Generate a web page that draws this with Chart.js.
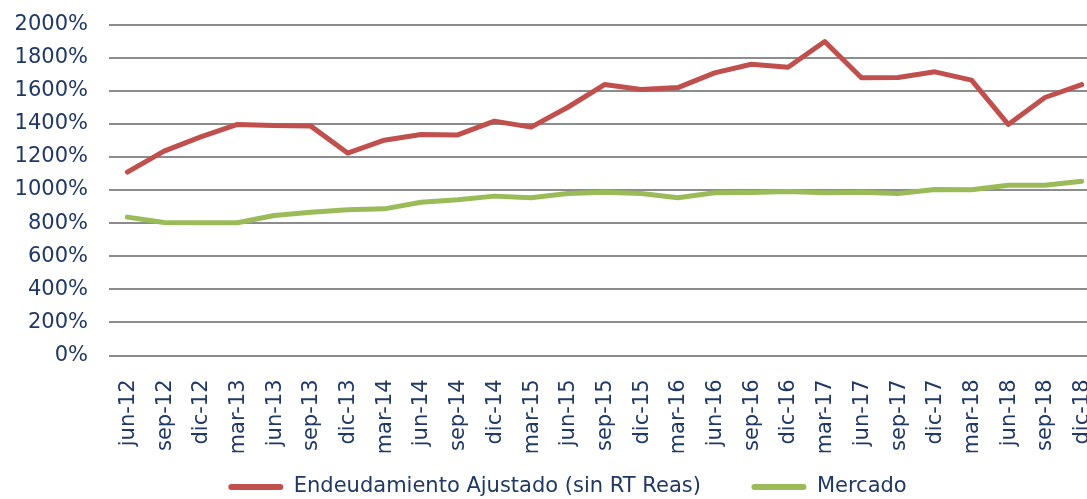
<!DOCTYPE html>
<html>
<head>
<meta charset="utf-8">
<script src="https://cdn.jsdelivr.net/npm/chart.js@4.4.1/dist/chart.umd.min.js"></script>
<style>
  html, body { margin: 0; padding: 0; background: #fff; overflow: hidden; }
  #wrap { width: 1087px; height: 499px; overflow: hidden; position: relative; }
  #chart { display: block; }
</style>
</head>
<body>
<div id="wrap"><canvas id="chart" width="1135" height="534"></canvas></div>
<script>
// quarters
var labels = ['jun-12','sep-12','dic-12','mar-13','jun-13','sep-13','dic-13','mar-14','jun-14','sep-14','dic-14',
              'mar-15','jun-15','sep-15','dic-15','mar-16','jun-16','sep-16','dic-16','mar-17','jun-17','sep-17',
              'dic-17','mar-18','jun-18','sep-18','dic-18']

// endeudamiento ajustado (sin RT reas), in %
var endeudamiento = [1108,1235,1321,1396,1390,1386,1223,1301,1335,1333,1416,
                     1380,1500,1637,1607,1619,1708,1760,1742,1897,1678,1680,
                     1714,1664,1396,1559,1637]

// mercado, in %
var mercado = [836,804,802,802,846,866,880,886,926,941,963,
               953,979,987,979,953,983,985,991,983,987,979,
               1003,1001,1029,1029,1053]

var yTicks = { min: 0, max: 2000, step: 200 }

var navy = '#1F3864'
var fontFam = '"DejaVu Sans", Verdana, sans-serif'
var legendPad = 50.5

// legend sits a bit over the bottom of the x axis box, like in excel
var legendNudge = {
    id: 'legendNudge',
    afterLayout: function (c) {
        var lg = c.legend
        if (!lg) return
        var shift = lg.top - (487 - legendPad - 10.5)
        lg.top -= shift
        lg.bottom -= shift
    }
}

// fixed box sizes, no extra label padding around the plot
function fixBox(w, h) {
    return function (s) {
        if (w != null) s.width = w
        if (h != null) s.height = h
        s.paddingTop = 0
        s.paddingBottom = 0
        s.paddingLeft = 0
        s.paddingRight = 0
    }
}

var ctx = document.getElementById('chart').getContext('2d')
var chart = new Chart(ctx, {
    type: 'line',
    data: {
        labels: labels,
        datasets: [{
            label: 'Endeudamiento Ajustado (sin RT Reas)',
            data: endeudamiento,
            borderColor: '#C0504D',
            backgroundColor: '#C0504D',
            borderWidth: 5,
            pointRadius: 0,
            tension: 0,
            borderCapStyle: 'round',
            borderJoinStyle: 'round'
        }, {
            label: 'Mercado',
            data: mercado,
            borderColor: '#9BBB59',
            backgroundColor: '#9BBB59',
            borderWidth: 5,
            pointRadius: 0,
            tension: 0,
            borderCapStyle: 'round',
            borderJoinStyle: 'round'
        }]
    },
    plugins: [legendNudge],
    options: {
        responsive: false,
        animation: false,
        devicePixelRatio: 1,
        layout: { padding: { top: 24.5, left: 0, right: 0, bottom: 0 } },
        plugins: {
            tooltip: { enabled: false },
            legend: {
                position: 'bottom',
                labels: {
                    color: navy,
                    font: { family: fontFam, size: 21 },
                    boxWidth: 55,
                    boxHeight: 6,
                    padding: legendPad,
                    useBorderRadius: true,
                    borderRadius: 3,
                    generateLabels: function (c) {
                        var items = Chart.defaults.plugins.legend.labels.generateLabels(c)
                        items.forEach(function (it) {
                            it.lineWidth = 0
                            it.fillStyle = it.strokeStyle
                        })
                        return items
                    }
                }
            }
        },
        scales: {
            x: {
                offset: true,
                grid: { display: false },
                border: { display: false },
                ticks: {
                    color: navy,
                    font: { family: fontFam, size: 21 },
                    maxRotation: 90,
                    minRotation: 90,
                    autoSkip: false,
                    padding: 16,
                    labelOffset: 1
                },
                afterFit: fixBox(null, 97)
            },
            y: {
                min: yTicks.min,
                max: yTicks.max,
                grid: { color: '#8C8C8C', lineWidth: 2, drawTicks: false },
                border: { display: false },
                ticks: {
                    stepSize: yTicks.step,
                    color: navy,
                    font: { family: fontFam, size: 21 },
                    padding: 21,
                    callback: function (v) { return v + '%' }
                },
                afterFit: fixBox(109, null)
            },
            // empty axis on the right, only to push the plot edge out of view
            yr: {
                position: 'right',
                grid: { display: false },
                border: { display: false },
                ticks: { display: false },
                afterFit: fixBox(35, null)
            }
        }
    }
})
</script>
</body>
</html>
